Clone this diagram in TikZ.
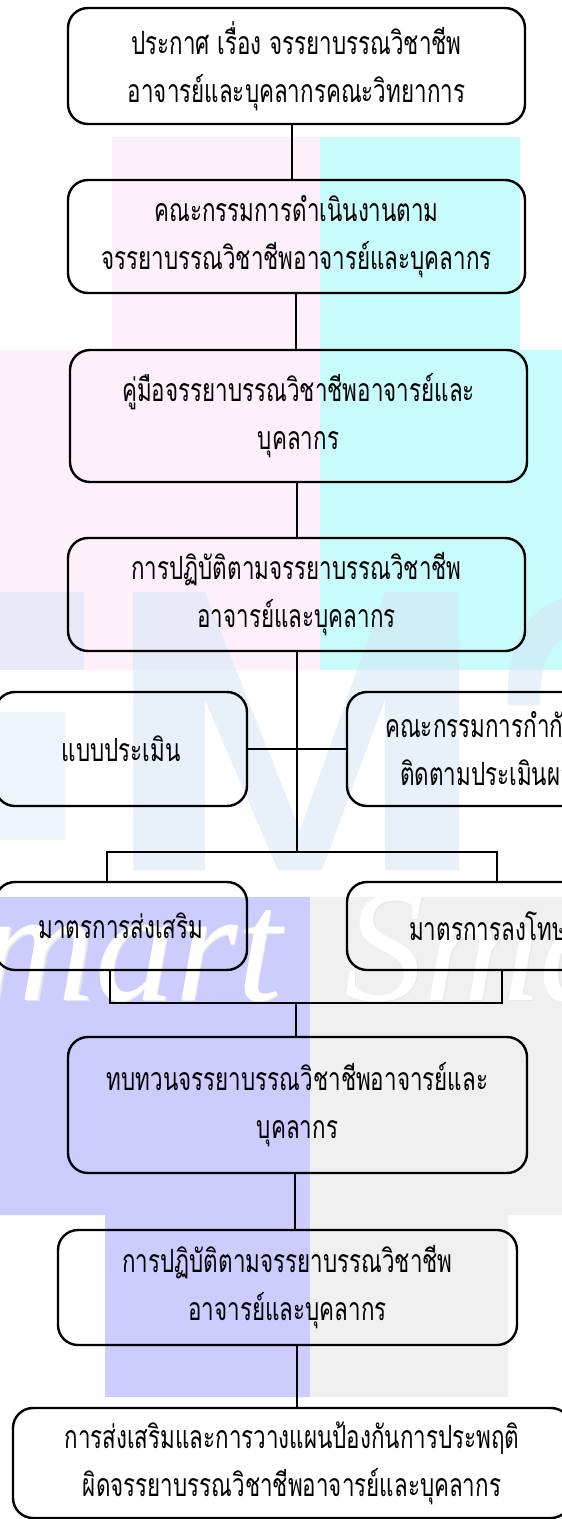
\documentclass[tikz,border=0pt]{standalone}
\usepackage{fontspec}
\newfontfamily\thaifont[Script=Thai,FakeStretch=0.7]{Loma}
\newfontfamily\wmfont{Liberation Serif}
\definecolor{wpink}{RGB}{253,240,251}
\definecolor{wcyan}{RGB}{200,252,252}
\definecolor{wblue}{RGB}{214,230,246}
\definecolor{wlav}{RGB}{204,204,255}
\definecolor{wgray}{RGB}{240,240,240}
\begin{document}
\begin{tikzpicture}[x=1pt,y=-1pt,
  box/.style={draw, line width=2.4pt, rounded corners=20pt, align=center, inner sep=0pt,
    font=\thaifont\fontsize{32}{48}\selectfont},
  lbl/.style={align=left, inner sep=0pt, font=\thaifont\fontsize{32}{48}\selectfont},
  conn/.style={line width=2pt},
  wm/.style={font=\wmfont\itshape\fontsize{160}{160}\selectfont, inner sep=0pt}]
\useasboundingbox (0,0) rectangle (562,1519);
\clip (0,0) rectangle (562,1519);
% watermark background
\fill[wpink] (112,137) -- (320,137) -- (320,670) -- (0,670) -- (0,350) -- (112,350) -- cycle;
\fill[wcyan] (320,137) -- (520,137) -- (520,350) -- (562,350) -- (562,670) -- (320,670) -- cycle;
\fill[wblue, opacity=0.55] (133,592) -- (205,592) -- (300,830) -- (385,592) -- (459,592) -- (459,870)
  -- (385,870) -- (385,700) -- (322,870) -- (278,870) -- (205,700) -- (205,870) -- (133,870) -- cycle;
\fill[wblue, opacity=0.55] (0,592) rectangle (84,670);
\fill[wblue, opacity=0.45] (0,712) rectangle (65,840);
\fill[wblue, opacity=0.55] (562,598) .. controls (525,610) and (505,650) .. (508,705)
  -- (540,705) .. controls (540,665) and (550,645) .. (562,640) -- cycle;
\fill[wlav] (0,897) -- (310,897) -- (310,1397) -- (105,1397) -- (105,1215) -- (0,1215) -- cycle;
\fill[wgray] (310,897) -- (562,897) -- (562,1215) -- (508,1215) -- (508,1397) -- (310,1397) -- cycle;
\node[wm, text=black!9, anchor=base east] (wm1s) at (283.5,1001.5) {Smart};
\node[wm, text=white, anchor=base east] (wm1) at (282,1000) {Smart};
\node[wm, text=black!9, anchor=base west] (wm2s) at (345.5,1001.5) {Smart};
\node[wm, text=white, anchor=base west] (wm2) at (344,1000) {Smart};
% boxes
\node[box, minimum width=457pt, minimum height=116pt] (b1) at (296.5,66)
  {ประกาศ เรื่อง จรรยาบรรณวิชาชีพ\\อาจารย์และบุคลากรคณะวิทยาการ};
\node[box, minimum width=457pt, minimum height=113pt] (b2) at (296.5,236.5)
  {คณะกรรมการดำเนินงานตาม\\จรรยาบรรณวิชาชีพอาจารย์และบุคลากร};
\node[box, minimum width=457pt, minimum height=132pt] (b3) at (298.5,416)
  {คู่มือจรรยาบรรณวิชาชีพอาจารย์และ\\บุคลากร};
\node[box, minimum width=457pt, minimum height=113pt] (b4) at (296.5,594.5)
  {การปฏิบัติตามจรรยาบรรณวิชาชีพ\\อาจารย์และบุคลากร};
\node[box, minimum width=252pt, minimum height=114pt] (b5) at (121,749) {แบบประเมิน};
\node[box, minimum width=303pt, minimum height=114pt] (b6) at (498.5,749) {};
\node[lbl, anchor=west] (b6t) at (385,749) {คณะกรรมการกำกับ\\\hspace*{15pt}ติดตามประเมินผล};
\node[box, minimum width=252pt, minimum height=88pt] (b7) at (121,926) {มาตรการส่งเสริม};
\node[box, minimum width=303pt, minimum height=88pt] (b8) at (498.5,926) {};
\node[lbl, anchor=west] (b8t) at (409,926) {มาตรการลงโทษ};
\node[box, minimum width=459pt, minimum height=136pt] (b9) at (297.5,1105)
  {ทบทวนจรรยาบรรณวิชาชีพอาจารย์และ\\บุคลากร};
\node[box, minimum width=459pt, minimum height=115pt] (b10) at (287.5,1287.5)
  {การปฏิบัติตามจรรยาบรรณวิชาชีพ\\อาจารย์และบุคลากร};
\node[box, minimum width=558pt, minimum height=110pt] (b11) at (292,1463)
  {การส่งเสริมและการวางแผนป้องกันการประพฤติ\\ผิดจรรยาบรรณวิชาชีพอาจารย์และบุคลากร};
% connectors
\coordinate (j1) at (297,852);
\coordinate (j2) at (296,1003);
\draw[conn] (b1.south -| 292,0) -- (b2.north -| 292,0);
\draw[conn] (b2.south -| 296,0) -- (b3.north -| 296,0);
\draw[conn] (b3.south -| 297,0) -- (b4.north -| 297,0);
\draw[conn] (b4.south -| j1) -- (j1);
\draw[conn] (b5.east) -- (b6.west);
\draw[conn] (b7.north -| 107,0) |- (j1) -| (b8.north -| 497,0);
\draw[conn] (b7.south -| 110,0) |- (j2) -| (b8.south -| 502,0);
\draw[conn] (j2) -- (b9.north -| j2);
\draw[conn] (b9.south -| 295,0) -- (b10.north -| 295,0);
\draw[conn] (b10.south -| 297,0) -- (b11.north -| 297,0);
\end{tikzpicture}
\end{document}
